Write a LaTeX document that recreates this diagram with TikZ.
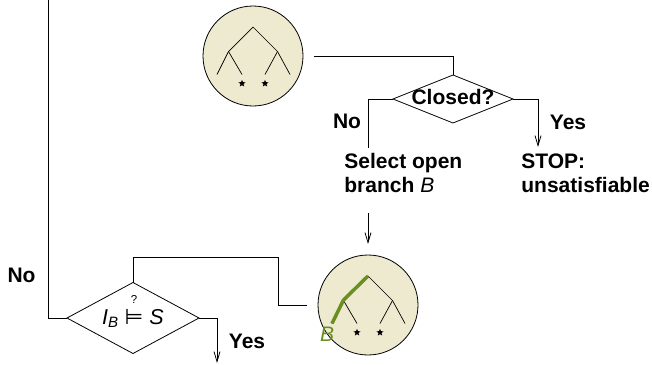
\documentclass[tikz,border=0pt]{standalone}
\usepackage{fontspec}
\setmainfont{Liberation Sans}
\newfontfamily\symbolfont{DejaVu Sans}
\usetikzlibrary{shapes.geometric,arrows.meta,calc}
\definecolor{tableau}{RGB}{238,234,208}
\definecolor{branchgreen}{RGB}{107,142,35}
\begin{document}
\begin{tikzpicture}[x=1pt,y=-1pt,line width=0.8pt,
  tab/.style={circle,draw,fill=tableau,minimum size=100pt,inner sep=0pt,outer sep=11pt},
  test/.style={diamond,draw,inner sep=0pt,outer sep=0pt},
  lbl/.style={font=\fontsize{21}{24}\selectfont\bfseries,inner sep=0pt},
  flow/.style={-{Straight Barb[length=10pt,width=6pt]}},
  starmark/.style={star,star points=5,star point ratio=2.3,fill=black,draw=none,minimum size=7.5pt,inner sep=0pt},
  pics/tree/.style={code={
    \draw[line width=0.7pt] (-36,18.5) -- (-24.5,-4.5) -- (0,-29) -- (24.5,-4.5) -- (37,18.5);
    \draw[line width=0.7pt] (-24.5,-4.5) -- (-11,18.5);
    \draw[line width=0.7pt] (24.5,-4.5) -- (12,18.5);
    \node[starmark] at (-11,27.5) {};
    \node[starmark] at (12,27.5) {};
  }}]
\useasboundingbox (0,0) rectangle (652,364);

% initial tableau
\node[tab] (top) at (253,56) {};
\pic at (top) {tree};

% closure test
\node[test,minimum width=120pt,minimum height=48pt] (closed) at (453,99) {};
\node[lbl] (closedtxt) at (453,97) {Closed?};
\draw (top.east) -| (closed.north);

\node[lbl,anchor=north west,align=left] (select) at (344,153) {Select open\\branch \textmd{\textit{B}}};
\node[lbl,anchor=north west,align=left] (stop) at (521,153) {STOP:\\unsatisfiable};

\coordinate (noend) at (368,148);
\coordinate (yesend) at (538,147);
\draw (closed.west) -| (noend);
\draw[flow] (closed.east) -| (yesend);
\node[lbl,anchor=base] (no1) at (347,128) {No};
\node[lbl,anchor=base] (yes1) at (568,129) {Yes};

% tableau with selected branch
\node[tab] (bot) at (368,305) {};
\pic at (bot) {tree};
\draw[branchgreen,line width=3.5pt] ($(bot)+(0,-29)$) -- ($(bot)+(-24.5,-5)$) -- ($(bot)+(-36,18.5)$);
\node[font=\fontsize{21}{24}\selectfont\itshape,text=branchgreen,inner sep=0pt] (blabel) at (327,334) {B};
\draw[flow] ($(select.south -| bot.north)+(0,20)$) -- (bot.north);

% model test
\node[test,minimum width=132pt,minimum height=71pt] (model) at (133,318) {};
\node[font=\fontsize{21.5}{24}\selectfont,inner sep=0pt,anchor=base] (modeltxt) at (133,324)
  {{\itshape I\textsubscript{B}} {\symbolfont ⊨} {\itshape S}};
\node[font=\fontsize{11.5}{12}\selectfont,inner sep=0pt] (query) at (134,299.5) {?};
\draw (bot.west) -- ++(-29,0) |- ($(model.north)+(0,-25)$) -- (model.north);

\coordinate (loopend) at (48,-2);
\coordinate (yes2end) at (217,363);
\draw (model.west) -| (loopend);
\draw[flow] (model.east) -| (yes2end);
\node[lbl,anchor=base] (no2) at (21.5,282) {No};
\node[lbl,anchor=base] (yes2) at (247,348) {Yes};
\end{tikzpicture}
\end{document}
